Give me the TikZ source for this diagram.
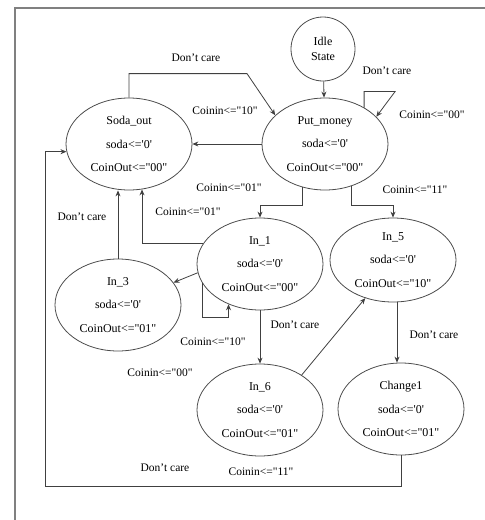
\documentclass[tikz,border=0pt]{standalone}
\usepackage{fontspec}
\setmainfont{Liberation Serif}
\usetikzlibrary{arrows.meta,positioning,shapes.geometric}
\tikzset{
  fsmstate/.style={ellipse, draw=black!70, line width=0.8pt, align=center, inner sep=0pt, minimum width=126pt, minimum height=92pt, font=\fontsize{12}{23.5}\selectfont},
  fsmidle/.style={circle, draw=black!70, line width=0.8pt, align=center, inner sep=0pt, minimum size=64pt, font=\fontsize{12}{15}\selectfont},
  fsmlabel/.style={inner sep=0pt, font=\fontsize{11.5}{13}\selectfont},
  fsmarrow/.style={-{Stealth[length=6pt,width=5pt]}, draw=black!75, line width=0.8pt},
  fsmframe/.style={draw=black!50, line width=2pt}
}
\newcommand{\sq}{\textquotesingle}
\newcommand{\dq}{\textquotedbl}

\begin{document}
\begin{tikzpicture}[x=1pt, y=-1pt, on grid]
\useasboundingbox (0,0) rectangle (485,520);
\coordinate (frametl) at (15,8);
\draw[fsmframe] (485,8) -- (frametl) -- (15,520);

\node[fsmstate] (put) at (325,144) {Put\_money\\soda<=\sq0\sq\\CoinOut<=\dq00\dq};
\node[fsmidle, above left=95pt and 2pt of put] (idle) {Idle\\State};
\node[fsmstate, left=196pt of put] (soda) {Soda\_out\\soda<=\sq0\sq\\CoinOut<=\dq00\dq};
\node[fsmstate, below left=120pt and 65pt of put] (in1) {In\_1\\soda<=\sq0\sq\\CoinOut<=\dq00\dq};
\node[fsmstate, minimum height=84pt, below right=116pt and 68pt of put] (in5) {In\_5\\soda<=\sq0\sq\\CoinOut<=\dq10\dq};
\node[fsmstate, below left=41pt and 142pt of in1] (in3) {In\_3\\soda<=\sq0\sq\\CoinOut<=\dq01\dq};
\node[fsmstate, below=146pt of in1] (in6) {In\_6\\soda<=\sq0\sq\\CoinOut<=\dq01\dq};
\node[fsmstate, below right=149pt and 8pt of in5] (chg) {Change1\\soda<=\sq0\sq\\CoinOut<=\dq01\dq};

\node[fsmlabel] (lbsodaput) at (196,58) {Don't care};
\node[fsmlabel] (lbputsoda) at (225,111) {Coinin<=\dq10\dq};
\node[fsmlabel] (lbloopa) at (387,71) {Don't care};
\node[fsmlabel] (lbloopb) at (432,115) {Coinin<=\dq00\dq};
\node[fsmlabel] (lbputin1) at (229,188) {Coinin<=\dq01\dq};
\node[fsmlabel] (lbputin5) at (415,190) {Coinin<=\dq11\dq};
\node[fsmlabel] (lbin1soda) at (188,212) {Coinin<=\dq01\dq};
\node[fsmlabel] (lbin3soda) at (82,217) {Don't care};
\node[fsmlabel] (lbin1in6) at (295,325) {Don't care};
\node[fsmlabel] (lbin1loop) at (213,342) {Coinin<=\dq10\dq};
\node[fsmlabel] (lbin5chg) at (434,335) {Don't care};
\node[fsmlabel] (lbin1in3) at (160,373) {Coinin<=\dq00\dq};
\node[fsmlabel] (lbchgsoda) at (165,468) {Don't care};
\node[fsmlabel] (lbin6in5) at (261,472) {Coinin<=\dq11\dq};

\draw[fsmarrow] (idle) -- (put);
\draw[fsmarrow] (put) -- (soda);
\draw[fsmarrow] (soda.north) -- ++(0,-24) -- ++(118,0) -- (put.150);
\draw[fsmarrow] (put.43) -- ++(0,-16) -- ++(31,0) -- (put.28);
\draw[fsmarrow] (put.242) -- ++(0,18) -| (in1.north);
\draw[fsmarrow] (put.302) -- ++(0,19) -| (in5.north);
\draw[fsmarrow] (in1.160) -| (soda.286);
\draw[fsmarrow] (in3.north) -- (in3.north |- soda.south);
\draw[fsmarrow] (in1.188) -- (in3.22);
\draw[fsmarrow] (in1.198) -- ++(0,35) -| (in1.232);
\draw[fsmarrow] (in1) -- (in6);
\draw[fsmarrow] (in6.40) -- (in5.234);
\draw[fsmarrow] ([xshift=4pt]in5.south) -- ([xshift=4pt]in5.south |- chg.north);
\draw[fsmarrow] (chg.south) |- ++(-356,31) |- (soda.187);
\end{tikzpicture}
\end{document}
